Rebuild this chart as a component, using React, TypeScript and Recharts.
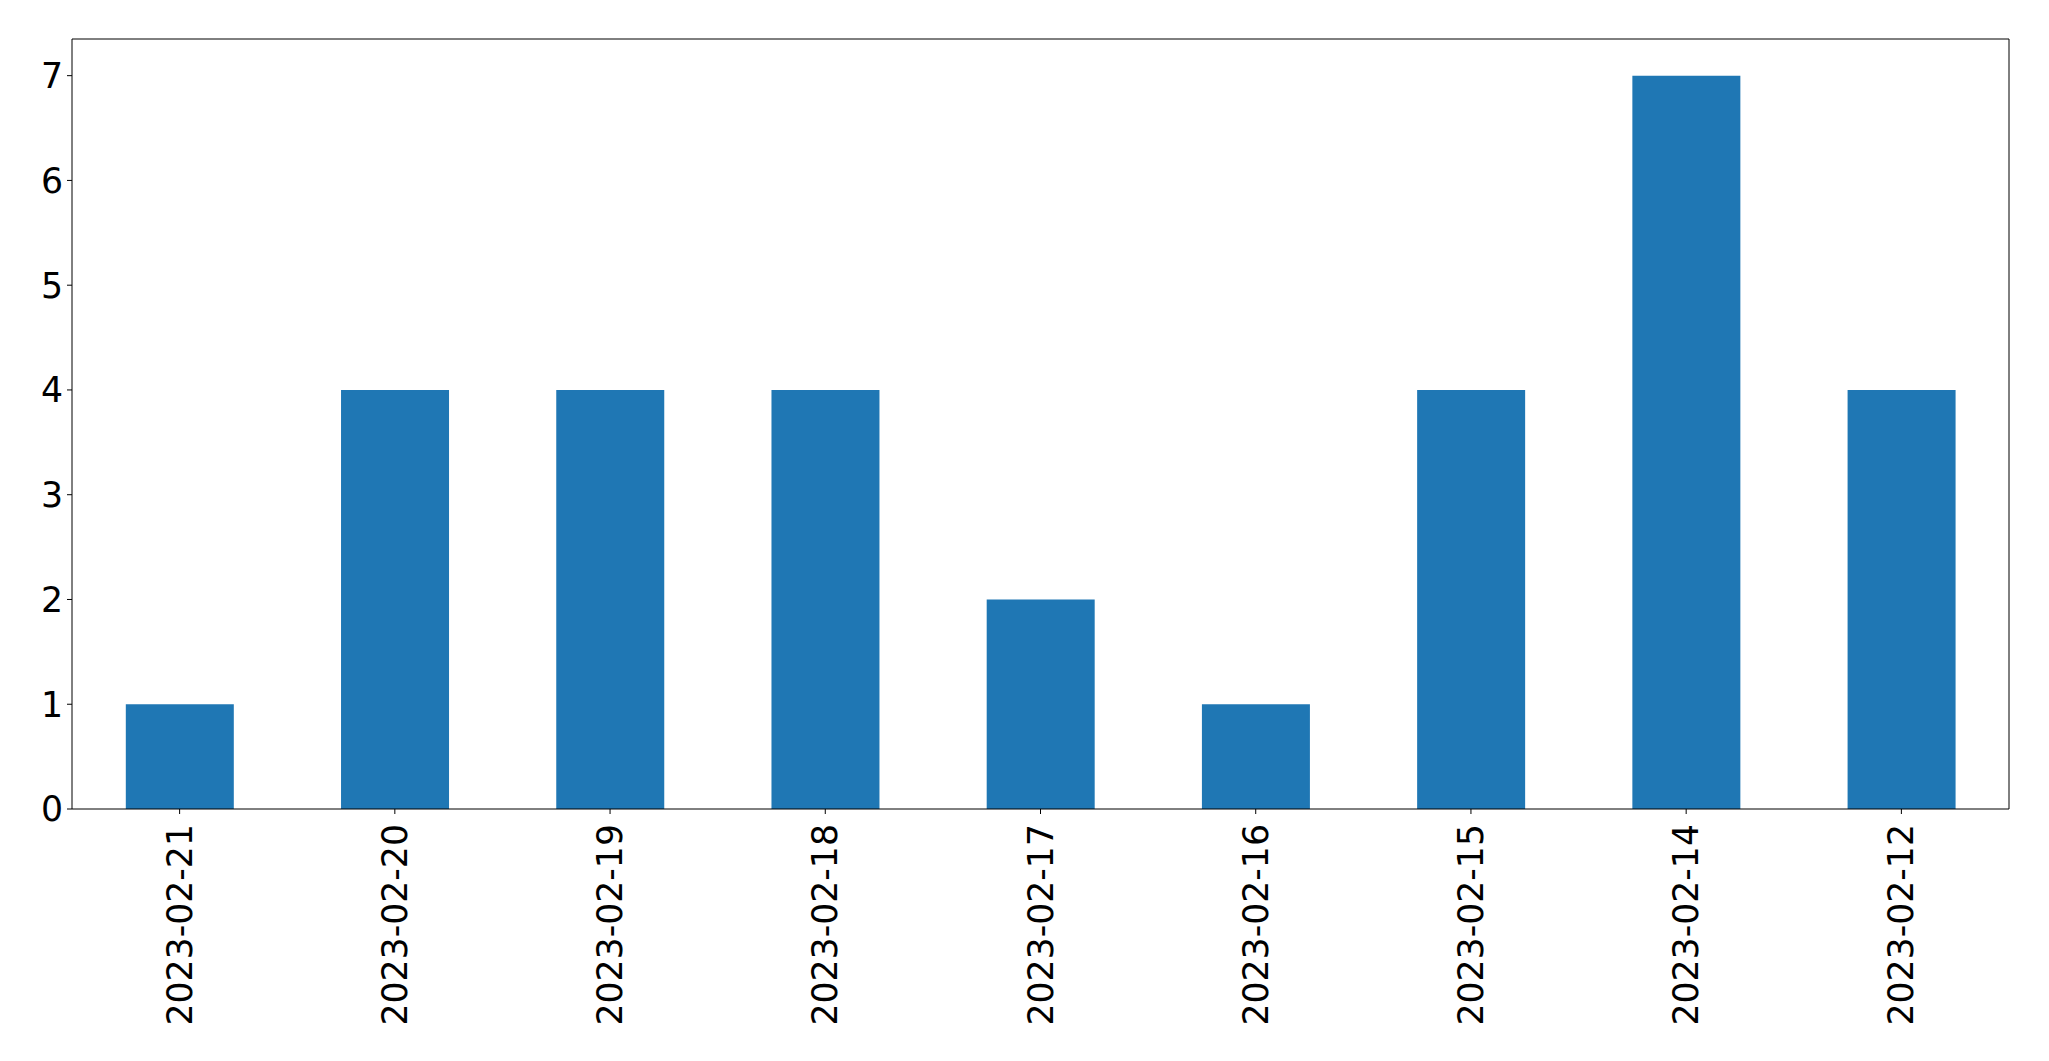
import { BarChart, Bar, XAxis, YAxis } from 'recharts';

const dates = [
  '2023-02-21',
  '2023-02-20',
  '2023-02-19',
  '2023-02-18',
  '2023-02-17',
  '2023-02-16',
  '2023-02-15',
  '2023-02-14',
  '2023-02-12',
];
const counts = [1, 4, 4, 4, 2, 1, 4, 7, 4];
const yTicks = [0, 1, 2, 3, 4, 5, 6, 7];

const FONT = '"DejaVu Sans", sans-serif';

// Rotated date label, reading bottom to top
function DateTick(props: any) {
  const { x, y, payload } = props;
  return (
    <g transform={`translate(${x},${y})`}>
      <text
        transform="rotate(-90)"
        textAnchor="end"
        dominantBaseline="central"
        fontFamily={FONT}
        fontSize={34.7}
        fill="#000"
      >
        {payload.value}
      </text>
    </g>
  );
}

export default function App() {
  const chartData = dates.map((d, i) => ({ date: d, count: counts[i] }));

  return (
    <div style={{ position: 'absolute', left: 0, top: 0, background: '#fff' }}>
      <BarChart
        width={2049}
        height={1061}
        data={chartData}
        margin={{ top: 0, right: 0, bottom: 0, left: 0 }}
        barCategoryGap="25%"
      >
        <XAxis
          dataKey="date"
          height={252}
          interval={0}
          stroke="#000"
          tickSize={5}
          tickMargin={10}
          tick={<DateTick />}
        />
        <XAxis xAxisId="top" dataKey="date" orientation="top" height={39} tick={false} tickLine={false} stroke="#000" />
        <YAxis
          width={72}
          domain={[0, 7.35]}
          ticks={yTicks}
          stroke="#000"
          tickSize={5}
          tickMargin={4}
          tick={{ fontFamily: FONT, fontSize: 34.7, fill: '#000' }}
        />
        <YAxis yAxisId="right" orientation="right" width={40} tick={false} tickLine={false} stroke="#000" />
        <Bar dataKey="count" fill="#1f77b4" isAnimationActive={false} />
      </BarChart>
    </div>
  );
}
